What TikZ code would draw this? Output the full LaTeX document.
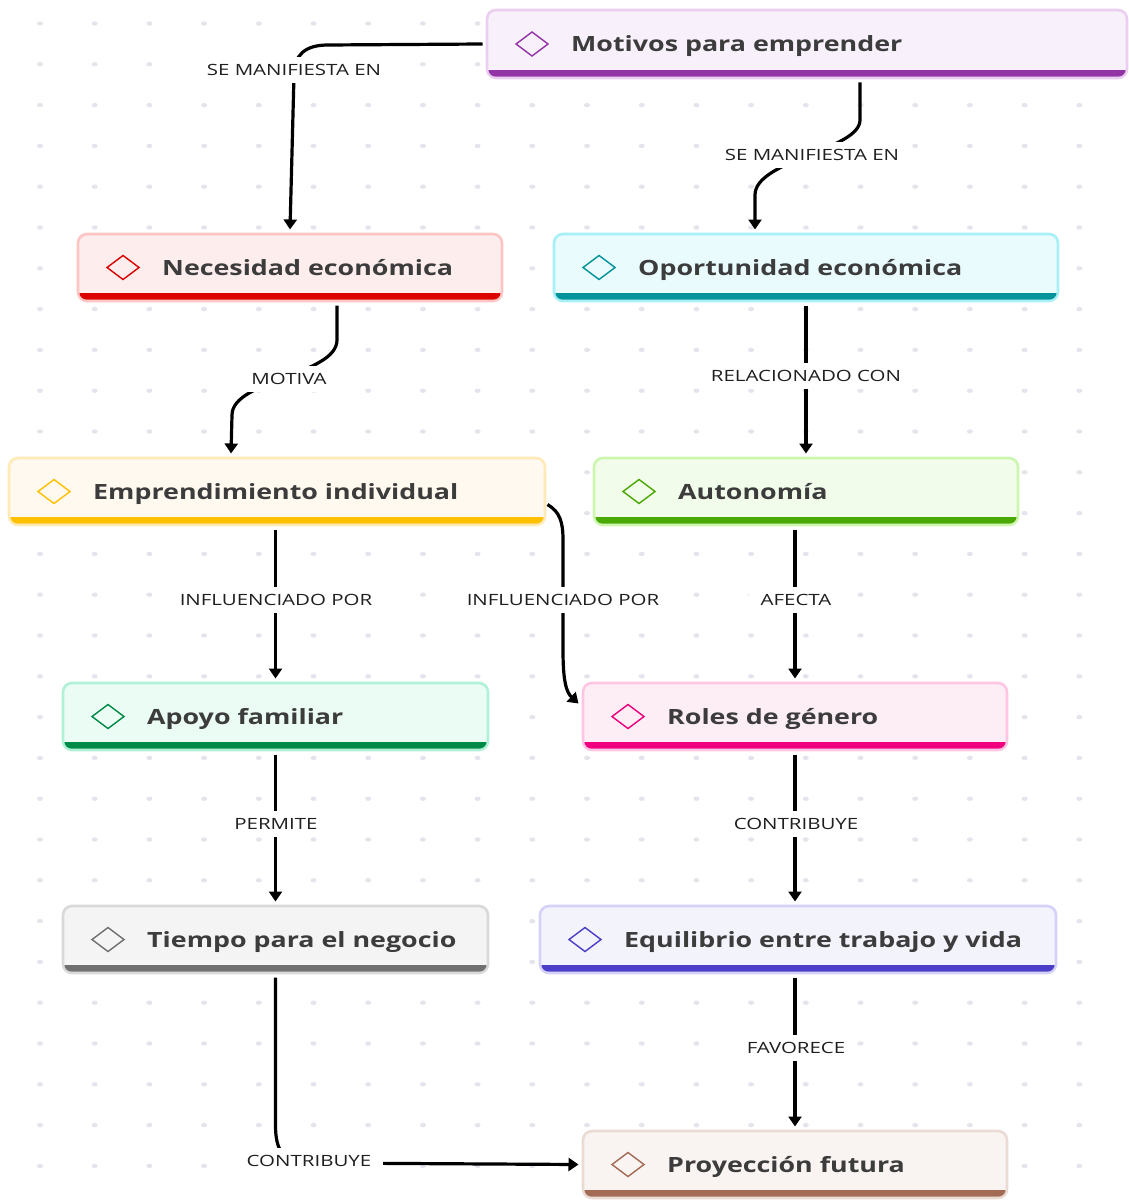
\documentclass[tikz,border=0pt]{standalone}
\usepackage{fontspec}
\usepackage{graphicx}
\setmainfont{Open Sans}
\usetikzlibrary{arrows.meta,calc}

\definecolor{txt}{HTML}{3C3C3C}
\definecolor{dotc}{HTML}{E4E4EC}
\definecolor{motF}{HTML}{F8F0FA}\definecolor{motE}{HTML}{EBCFF0}\definecolor{motB}{HTML}{9334A6}
\definecolor{necF}{HTML}{FDEDED}\definecolor{necE}{HTML}{FFC4C4}\definecolor{necB}{HTML}{DD0000}
\definecolor{opoF}{HTML}{E9FBFD}\definecolor{opoE}{HTML}{A8F0F8}\definecolor{opoB}{HTML}{00939A}
\definecolor{empF}{HTML}{FFF9F0}\definecolor{empE}{HTML}{FFEAB8}\definecolor{empB}{HTML}{FFC000}
\definecolor{autF}{HTML}{F1FCEA}\definecolor{autE}{HTML}{CDF7AE}\definecolor{autB}{HTML}{4AA800}
\definecolor{apoF}{HTML}{EAFCF4}\definecolor{apoE}{HTML}{B0F2D8}\definecolor{apoB}{HTML}{008A47}
\definecolor{rolF}{HTML}{FDEEF6}\definecolor{rolE}{HTML}{FFC6E4}\definecolor{rolB}{HTML}{F0007F}
\definecolor{tieF}{HTML}{F4F4F4}\definecolor{tieE}{HTML}{D9D9D9}\definecolor{tieB}{HTML}{707070}
\definecolor{equF}{HTML}{F3F3FB}\definecolor{equE}{HTML}{D4D2F8}\definecolor{equB}{HTML}{4B3EC8}
\definecolor{proF}{HTML}{F9F4F2}\definecolor{proE}{HTML}{EADBD4}\definecolor{proB}{HTML}{A36A54}

\newcommand\sx{1.277}
% #1 name, #2 x1, #3 y1, #4 x2, #5 y2, #6 colour prefix, #7 text
\newcommand\mnode[7]{%
  \pgfmathsetmacro\mw{#4-#2}\pgfmathsetmacro\mh{#5-#3}%
  \pgfmathsetmacro\mcx{(#2+#4)/2}\pgfmathsetmacro\mcy{(#3+#5)/2}%
  \path[fill=#6F, draw=#6E, line width=2.6, rounded corners=9] (#2,#3) rectangle (#4,#5);
  \begin{scope}
    \clip[rounded corners=7.5] (#2+1.3,#3+1.3) rectangle (#4-1.3,#5-1.3);
    \fill[#6B] (#2,#5-7.6) rectangle (#4,#5);
  \end{scope}
  \draw[#6B, line width=1.4, line join=miter] (#2+29,\mcy) -- (#2+45,\mcy-12) -- (#2+61,\mcy) -- (#2+45,\mcy+12) -- cycle;
  \node[anchor=base west, inner sep=0, text=txt, font=\bfseries\fontsize{21}{21}\selectfont] (#1t) at (#2+84,\mcy+7.5) {\scalebox{\sx}[1]{#7}};
  \node[draw=none, minimum width=\mw, minimum height=\mh, inner sep=0, outer sep=4.5] (#1) at (\mcx,\mcy) {};
}

\tikzset{
  conn/.style={line width=3.2, black, -{Triangle[width=13pt,length=10pt]}},
  lbl/.style={fill=white, inner xsep=12pt, inner ysep=7pt, text=black!88, font=\fontsize{15.5}{15.5}\selectfont}
}
\newcommand\lb[1]{\scalebox{1.32}[1]{#1}}

\begin{document}
\begin{tikzpicture}[x=1pt, y=-1pt]
\fill[white] (0,0) rectangle (1128,1201);
\useasboundingbox (0,0) rectangle (1128,1201);
% dot grid
\foreach \i in {0,...,19} {
  \foreach \j in {0,...,28} {
    \fill[dotc] ({40+54.7*\i},{23.5+40.8*\j}) ellipse [x radius=3, y radius=2.2];
  }
}

\mnode{mot}{487}{10}{1127}{78}{mot}{Motivos para emprender}
\mnode{nec}{78}{234}{502}{301}{nec}{Necesidad económica}
\mnode{opo}{554}{234}{1058}{301}{opo}{Oportunidad económica}
\mnode{emp}{9}{458}{545}{525}{emp}{Emprendimiento individual}
\mnode{aut}{594}{458}{1018}{525}{aut}{Autonomía}
\mnode{apo}{63}{683}{488}{750}{apo}{Apoyo familiar}
\mnode{rol}{583}{683}{1007}{750}{rol}{Roles de género}
\mnode{tie}{63}{906}{488}{973}{tie}{Tiempo para el negocio}
\mnode{equ}{540}{906}{1056}{973}{equ}{Equilibrio entre trabajo y vida}
\mnode{pro}{583}{1131}{1007}{1198}{pro}{Proyección futura}

% connectors
\draw[conn] (mot.west) -- (328,45) .. controls (305,45) and (294,55) .. (294,75) -- (nec.north);
\node[lbl] (l1) at (294,70) {\lb{SE MANIFIESTA EN}};

\draw[conn] ($(mot.south)+(53,0)$) -- (860,120) .. controls (860,150) and (755,160) .. (755,195) -- ($(opo.north)+(-51,0)$);
\node[lbl] (l2) at (812,155) {\lb{SE MANIFIESTA EN}};

\draw[conn] ($(nec.south)+(47,0)$) -- (337,340) .. controls (337,375) and (232,380) .. (232,415) -- ($(emp.north)+(-46,0)$);
\node[lbl] (l3) at (289,379) {\lb{MOTIVA}};

\draw[conn] (opo.south) -- (aut.north);
\node[lbl] (l4) at (806,376) {\lb{RELACIONADO CON}};

\draw[conn] (emp.south -| apo.north) -- (apo.north);
\node[lbl] (l5) at (276,600) {\lb{INFLUENCIADO POR}};

\draw[conn] ($(emp.east)+(-2,13)$) .. controls (560,512) and (563,522) .. (563,540) -- (563,650) .. controls (563,680) and (566,692) .. ($(rol.west)+(0,-13)$);
\node[lbl] (l6) at (563,600) {\lb{INFLUENCIADO POR}};

\draw[conn] (aut.south -| rol.north) -- (rol.north);
\node[lbl] (l7) at (796,600) {\lb{AFECTA}};

\draw[conn] (apo.south) -- (tie.north);
\node[lbl] (l8) at (276,824) {\lb{PERMITE}};

\draw[conn] (rol.south) -- (rol.south |- equ.north);
\node[lbl] (l9) at (796,824) {\lb{CONTRIBUYE}};

\draw[conn] (tie.south) -- (275.5,1125) .. controls (275.5,1160) and (290,1163) .. (320,1163) -- (pro.west);
\node[lbl] (l10) at (309,1161) {\lb{CONTRIBUYE}};

\draw[conn] (equ.south -| pro.north) -- (pro.north);
\node[lbl] (l11) at (796,1048) {\lb{FAVORECE}};
\end{tikzpicture}
\end{document}
